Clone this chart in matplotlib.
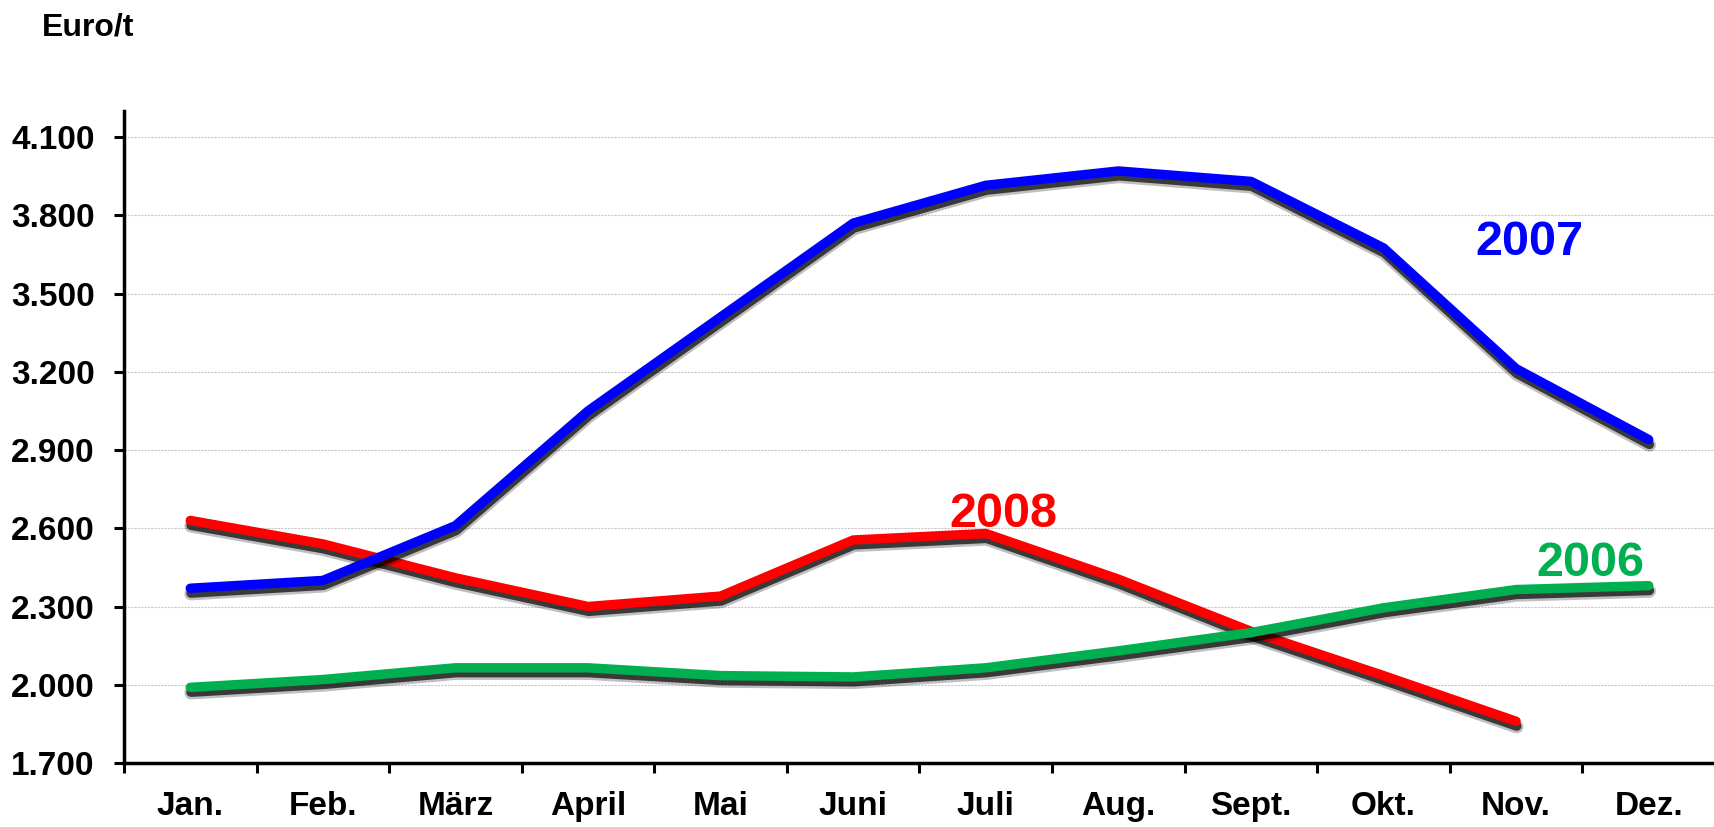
import matplotlib.pyplot as plt
import matplotlib.patheffects as pe
import numpy as np

plt.rcParams['font.family'] = ['Liberation Sans', 'DejaVu Sans']
plt.rcParams['font.weight'] = 'bold'

months = ["Jan.", "Feb.", "März", "April", "Mai", "Juni", "Juli",
          "Aug.", "Sept.", "Okt.", "Nov.", "Dez."]
y2006 = [1990, 2020, 2065, 2065, 2035, 2030, 2065, 2130, 2200, 2295, 2365, 2380]
y2007 = [2370, 2400, 2610, 3050, 3410, 3770, 3915, 3970, 3930, 3675, 3212, 2940]
y2008 = [2630, 2540, 2410, 2300, 2340, 2555, 2580, 2405, 2205, 2035, 1860]
yticks = [1700, 2000, 2300, 2600, 2900, 3200, 3500, 3800, 4100]

fig = plt.figure(figsize=(17.15, 8.27), dpi=100)
ax = fig.add_axes([0.0723, 0.0774, 0.9277, 0.7884])

# blurred-ish drop shadow like the original office chart
shadow = [pe.SimpleLineShadow(offset=(0.5, -4), shadow_color='black', alpha=0.25, linewidth=9.5),
          pe.SimpleLineShadow(offset=(0.5, -3.5), shadow_color='black', alpha=0.7),
          pe.Normal()]

x = np.arange(len(months))
series = [(y2008, '#ff0000', '2008', 6.13, 2651),
          (y2007, '#0000ff', '2007', 10.1, 3697),
          (y2006, '#00b050', '2006', 10.56, 2464)]
for vals, col, lab, lx, ly in series:
    ax.plot(x[:len(vals)], vals, color=col, lw=6.8, solid_capstyle='round',
            solid_joinstyle='round', path_effects=shadow, zorder=3)
    ax.text(lx, ly, lab, color=col, fontsize=35, fontweight='bold',
            ha='center', va='center', zorder=4)

ax.set_xlim(-0.5, 11.5)
ax.set_ylim(1700, 4200)
ax.set_yticks(yticks)
ax.set_yticklabels([f"{v:,}".replace(",", ".") for v in yticks])
ax.set_xticks(x)
ax.set_xticklabels(months)
ax.set_xticks(np.arange(-0.5, 11.6, 1), minor=True)
ax.tick_params(axis='x', which='major', length=0, pad=20, labelsize=24)
ax.tick_params(axis='x', which='minor', length=7, width=2.2, direction='out')
ax.tick_params(axis='y', length=7, width=2.2, direction='out', pad=14, labelsize=24)

ax.grid(axis='y', color='#c8c8c8', lw=0.8, ls=(0, (2, 1)))
ax.set_axisbelow(True)
for s in ['top', 'right']:
    ax.spines[s].set_visible(False)
for s in ['left', 'bottom']:
    ax.spines[s].set_linewidth(2.5)

fig.text(42 / 1715, 1 - 35 / 827, "Euro/t", fontsize=23, fontweight='bold',
         ha='left', va='baseline')

fig.savefig('out.png', dpi=100)
